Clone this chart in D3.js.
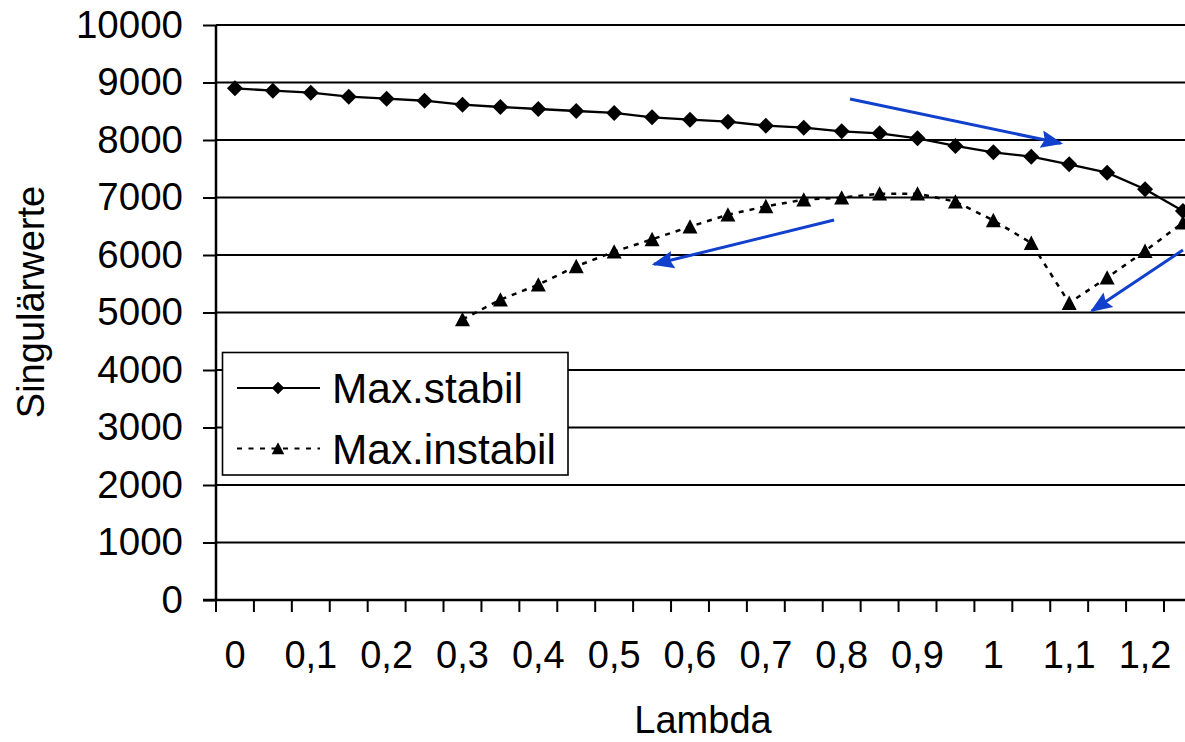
<!DOCTYPE html>
<html>
<head>
<meta charset="utf-8">
<script src="https://cdn.jsdelivr.net/npm/d3@7"></script>
<style>
  body { margin: 0; background: #fff; }
  svg { display: block; font-family: "Liberation Sans", Arial, sans-serif; }
</style>
</head>
<body>
<svg id="chart" width="1185" height="742"></svg>
<script>
// lambda categories (x axis is a category axis)
var lambda = [0, 0.05, 0.1, 0.15, 0.2, 0.25, 0.3, 0.35, 0.4, 0.45, 0.5, 0.55, 0.6,
              0.65, 0.7, 0.75, 0.8, 0.85, 0.9, 0.95, 1, 1.05, 1.1, 1.15, 1.2, 1.25];
var xLabels = ["0", "", "0,1", "", "0,2", "", "0,3", "", "0,4", "", "0,5", "", "0,6", "",
               "0,7", "", "0,8", "", "0,9", "", "1", "", "1,1", "", "1,2", ""];
var maxStabil = [8899, 8858, 8823, 8753, 8718, 8683, 8614, 8574, 8539, 8504, 8470, 8395, 8353,
                 8318, 8249, 8214, 8151, 8116, 8029, 7896, 7786, 7710, 7577, 7431, 7143, 6765];
var maxInstabil = [null, null, null, null, null, null, 4880, 5223, 5484, 5803, 6058, 6273, 6493,
                   6701, 6846, 6962, 6997, 7067, 7067, 6928, 6603, 6209, 5165, 5606, 6070, 6562];
var yTicks = [0, 1000, 2000, 3000, 4000, 5000, 6000, 7000, 8000, 9000, 10000];
var seriesNames = ["Max.stabil", "Max.instabil"];
// blue annotation arrows, in category index / value units
var arrows = [
  {x1: 16.22, y1: 8713, x2: 21.78, y2: 7943},
  {x1: 15.80, y1: 6609, x2: 11.05, y2: 5838},
  {x1: 25.00, y1: 6087, x2: 22.60, y2: 5031}
];

var svg = d3.select("#chart");
var plotLeft = 216, plotTop = 25, plotBottom = 600;
var step = 37.92;
var fontFam = "Liberation Sans, Arial, sans-serif";

var x = d3.scaleBand()
    .domain(d3.range(lambda.length))
    .range([plotLeft, plotLeft + step * lambda.length])
    .paddingInner(0).paddingOuter(0);
var xi = d3.scaleLinear().domain([0, 1]).range([x(0) + step / 2, x(1) + step / 2]);
var y = d3.scaleLinear().domain([0, 10000]).range([plotBottom, plotTop]);

// gridlines
svg.append("g").selectAll("line")
    .data(yTicks.slice(1))
    .enter().append("line")
    .attr("x1", plotLeft).attr("x2", 1185)
    .attr("y1", function(d){ return y(d); })
    .attr("y2", function(d){ return y(d); })
    .attr("stroke", "#000").attr("stroke-width", 2);

// y axis
var yAxis = svg.append("g")
    .attr("transform", "translate(" + plotLeft + ",0)")
    .call(d3.axisLeft(y).tickValues(yTicks).tickSize(13).tickPadding(20)
          .tickFormat(function(d){ return String(d); }));
yAxis.select(".domain").attr("stroke-width", 2.5).attr("d", "M0," + plotTop + "V" + plotBottom);
yAxis.selectAll(".tick line").attr("stroke-width", 2);
yAxis.selectAll("text").attr("font-size", 38.5).attr("font-family", fontFam).attr("fill", "#000");

// x axis
var xAxis = svg.append("g")
    .attr("transform", "translate(0," + plotBottom + ")")
    .call(d3.axisBottom(x).tickSizeInner(12).tickSizeOuter(0).tickPadding(29)
          .tickFormat(function(i){ return xLabels[i]; }));
xAxis.select(".domain").attr("stroke-width", 2.5).attr("d", "M" + (plotLeft - 13) + ",0H" + x.range()[1]);
xAxis.selectAll(".tick line").attr("stroke-width", 2)
    .attr("x1", -step / 2).attr("x2", -step / 2);
xAxis.selectAll("text").attr("font-size", 38).attr("font-family", fontFam).attr("fill", "#000");

// axis titles
svg.append("text")
    .attr("x", 703).attr("y", 733)
    .attr("text-anchor", "middle").attr("font-size", 38)
    .text("Lambda");
svg.append("text")
    .attr("transform", "translate(44,302) rotate(-90)")
    .attr("text-anchor", "middle").attr("font-size", 38)
    .text("Singulärwerte");

function triangle(s){
  return "M0," + (-s / 2) + "L" + (s / 2) + "," + (s * 0.46) + "L" + (-s / 2) + "," + (s * 0.46) + "Z";
}
function diamond(s){
  var h = s / 2;
  return "M0," + (-h) + "L" + h + ",0L0," + h + "L" + (-h) + ",0Z";
}

var line = d3.line()
    .defined(function(d){ return d != null; })
    .x(function(d, i){ return xi(i); })
    .y(function(d){ return y(d); });

// series lines
svg.append("path").datum(maxStabil)
    .attr("d", line).attr("fill", "none")
    .attr("stroke", "#000").attr("stroke-width", 2.3);
svg.append("path").datum(maxInstabil)
    .attr("d", line).attr("fill", "none")
    .attr("stroke", "#000").attr("stroke-width", 2.5)
    .attr("stroke-dasharray", "5,6");

// markers
svg.append("g").selectAll("path")
    .data(maxStabil)
    .enter().append("path")
    .attr("transform", function(d, i){ return "translate(" + xi(i) + "," + y(d) + ")"; })
    .attr("d", diamond(16)).attr("fill", "#000");
svg.append("g").selectAll("path")
    .data(maxInstabil.map(function(d, i){ return {i: i, v: d}; }).filter(function(d){ return d.v != null; }))
    .enter().append("path")
    .attr("transform", function(d){ return "translate(" + xi(d.i) + "," + y(d.v) + ")"; })
    .attr("d", triangle(15)).attr("fill", "#000");

// annotation arrows
svg.append("defs").append("marker")
    .attr("id", "head")
    .attr("markerUnits", "userSpaceOnUse")
    .attr("markerWidth", 22).attr("markerHeight", 22)
    .attr("viewBox", "0 -9 20 18")
    .attr("refX", 18).attr("refY", 0)
    .attr("orient", "auto")
    .append("path")
    .attr("d", "M0,-8L20,0L0,8L3,0Z")
    .attr("fill", "#1140cc");
svg.append("g").selectAll("line")
    .data(arrows)
    .enter().append("line")
    .attr("x1", function(d){ return xi(d.x1); })
    .attr("y1", function(d){ return y(d.y1); })
    .attr("x2", function(d){ return xi(d.x2); })
    .attr("y2", function(d){ return y(d.y2); })
    .attr("stroke", "#1140cc").attr("stroke-width", 3)
    .attr("marker-end", "url(#head)");

// legend
var legend = svg.append("g");
legend.append("rect")
    .attr("x", 222.5).attr("y", 352.5).attr("width", 345.5).attr("height", 122.5)
    .attr("fill", "#fff").attr("stroke", "#000").attr("stroke-width", 1.6);
var rows = legend.selectAll("g.row")
    .data(seriesNames)
    .enter().append("g").attr("class", "row")
    .attr("transform", function(d, i){ return "translate(0," + (388 + i * 60.5) + ")"; });
rows.append("line")
    .attr("x1", 237).attr("x2", 320).attr("y1", 0).attr("y2", 0)
    .attr("stroke", "#000").attr("stroke-width", 2.2)
    .attr("stroke-dasharray", function(d, i){ return i ? "5,6.5" : null; });
rows.append("path")
    .attr("transform", "translate(278,0)")
    .attr("d", function(d, i){ return i ? triangle(12.5) : diamond(12.5); })
    .attr("fill", "#000");
rows.append("text")
    .attr("x", 332).attr("y", 15)
    .attr("font-size", 42.4)
    .text(function(d){ return d; });
</script>
</body>
</html>
